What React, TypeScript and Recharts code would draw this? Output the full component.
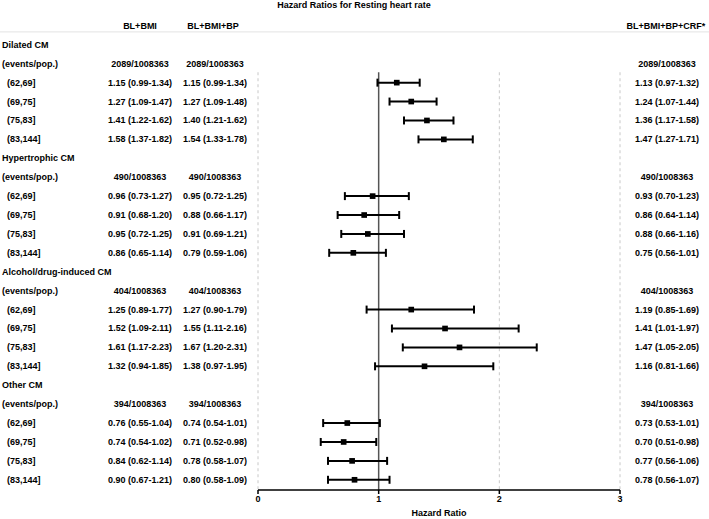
import React from 'react'
import {
  ComposedChart,
  Scatter,
  ErrorBar,
  XAxis,
  YAxis,
  ZAxis,
  ReferenceLine,
} from 'recharts'

// cardiomyopathy subtypes and their event counts
const groups = ['Dilated CM', 'Hypertrophic CM', 'Alcohol/drug-induced CM', 'Other CM']
const events = ['2089/1008363', '490/1008363', '404/1008363', '394/1008363']
const ranges = ['(62,69]', '(69,75]', '(75,83]', '(83,144]']
const xTicks = [0, 1, 2, 3]

// [HR, lower, upper] per group x range
const blBmi = [
  [[1.15, 0.99, 1.34], [1.27, 1.09, 1.47], [1.41, 1.22, 1.62], [1.58, 1.37, 1.82]],
  [[0.96, 0.73, 1.27], [0.91, 0.68, 1.2], [0.95, 0.72, 1.25], [0.86, 0.65, 1.14]],
  [[1.25, 0.89, 1.77], [1.52, 1.09, 2.11], [1.61, 1.17, 2.23], [1.32, 0.94, 1.85]],
  [[0.76, 0.55, 1.04], [0.74, 0.54, 1.02], [0.84, 0.62, 1.14], [0.9, 0.67, 1.21]],
]
const blBmiBp = [
  [[1.15, 0.99, 1.34], [1.27, 1.09, 1.48], [1.4, 1.21, 1.62], [1.54, 1.33, 1.78]],
  [[0.95, 0.72, 1.25], [0.88, 0.66, 1.17], [0.91, 0.69, 1.21], [0.79, 0.59, 1.06]],
  [[1.27, 0.9, 1.79], [1.55, 1.11, 2.16], [1.67, 1.2, 2.31], [1.38, 0.97, 1.95]],
  [[0.74, 0.54, 1.01], [0.71, 0.52, 0.98], [0.78, 0.58, 1.07], [0.8, 0.58, 1.09]],
]
const blBmiBpCrf = [
  [[1.13, 0.97, 1.32], [1.24, 1.07, 1.44], [1.36, 1.17, 1.58], [1.47, 1.27, 1.71]],
  [[0.93, 0.7, 1.23], [0.86, 0.64, 1.14], [0.88, 0.66, 1.16], [0.75, 0.56, 1.01]],
  [[1.19, 0.85, 1.69], [1.41, 1.01, 1.97], [1.47, 1.05, 2.05], [1.16, 0.81, 1.66]],
  [[0.73, 0.53, 1.01], [0.7, 0.51, 0.98], [0.77, 0.56, 1.06], [0.78, 0.56, 1.07]],
]

const FONT = 'Liberation Sans, Arial, sans-serif'
const fmt = (v: number[]) => `${v[0].toFixed(2)} (${v[1].toFixed(2)}-${v[2].toFixed(2)})`

type Row = { label: string; indent: boolean; c1: string; c2: string; c3: string }

// one text row per index; row 0 is the first group label
const rows: Row[] = []
groups.forEach((g, k) => {
  rows.push({ label: g, indent: false, c1: '', c2: '', c3: '' })
  rows.push({ label: '(events/pop.)', indent: false, c1: events[k], c2: events[k], c3: events[k] })
  ranges.forEach((r, j) => {
    rows.push({
      label: r,
      indent: true,
      c1: fmt(blBmi[k][j]),
      c2: fmt(blBmiBp[k][j]),
      c3: fmt(blBmiBpCrf[k][j]),
    })
  })
})

// plotted estimates are the BL+BMI+BP model
const points: { hr: number; row: number; err: number[] }[] = []
blBmiBp.forEach((grp, k) =>
  grp.forEach((v, j) => {
    points.push({ hr: v[0], row: k * 6 + 2 + j, err: [v[0] - v[1], v[2] - v[0]] })
  })
)

const rowTicks = [-1, ...rows.map((_, i) => i)]
const Y_DOMAIN = [-2, 23.54]
const GRID_TOP = 1.45

const txt = { fontFamily: FONT, fontSize: 9, fontWeight: 700, fill: '#000' }

// draws the whole table row (left columns + right CRF column) at the tick's y
const RowTick = (props: any) => {
  const { y, payload } = props
  const i = payload.value
  if (i === -1) {
    return (
      <g>
        <text x={354} y={y - 21} textAnchor="middle" dominantBaseline="central" {...txt}>
          Hazard Ratios for Resting heart rate
        </text>
        <text x={140} y={y} textAnchor="middle" dominantBaseline="central" {...txt}>
          BL+BMI
        </text>
        <text x={213} y={y} textAnchor="middle" dominantBaseline="central" {...txt}>
          BL+BMI+BP
        </text>
        <text x={666} y={y} textAnchor="middle" dominantBaseline="central" {...txt}>
          BL+BMI+BP+CRF*
        </text>
        <line x1={0} x2={709} y1={y + 6} y2={y + 6} stroke="#e3e3e3" strokeWidth={1} />
      </g>
    )
  }
  const r = rows[i]
  if (!r) return null
  return (
    <g>
      <text x={r.indent ? 7 : 2} y={y} dominantBaseline="central" {...txt}>
        {r.label}
      </text>
      <text x={140} y={y} textAnchor="middle" dominantBaseline="central" {...txt}>
        {r.c1}
      </text>
      <text x={215} y={y} textAnchor="middle" dominantBaseline="central" {...txt}>
        {r.c2}
      </text>
      <text x={667} y={y} textAnchor="middle" dominantBaseline="central" {...txt}>
        {r.c3}
      </text>
    </g>
  )
}

export default function App() {
  return (
    <div style={{ position: 'absolute', left: 0, top: 0, background: '#fff' }}>
      <ComposedChart
        width={709}
        height={519}
        data={points}
        margin={{ top: 7, right: 89, bottom: 0, left: 0 }}
      >
        <XAxis
          type="number"
          dataKey="hr"
          domain={[0, 3]}
          ticks={xTicks}
          axisLine={{ stroke: '#000', strokeWidth: 1.5 }}
          tickLine={{ stroke: '#000', strokeWidth: 1.5 }}
          tickSize={4}
          height={29}
          tick={{ fontFamily: FONT, fontSize: 9, fontWeight: 700, fill: '#000' }}
          label={{
            value: 'Hazard Ratio',
            position: 'insideBottom',
            offset: 3,
            style: { fontFamily: FONT, fontSize: 9, fontWeight: 700, fill: '#000' },
          }}
        />
        <YAxis
          type="number"
          dataKey="row"
          domain={Y_DOMAIN}
          reversed
          ticks={rowTicks}
          interval={0}
          width={258}
          axisLine={false}
          tickLine={false}
          tick={<RowTick />}
        />
        <ZAxis range={[32, 32]} />
        {[0, 2, 3].map((v) => (
          <ReferenceLine
            key={v}
            segment={[
              { x: v, y: GRID_TOP },
              { x: v, y: Y_DOMAIN[1] },
            ]}
            stroke="#c8c8c8"
            strokeDasharray="3 3"
          />
        ))}
        <ReferenceLine
          segment={[
            { x: 1, y: GRID_TOP },
            { x: 1, y: Y_DOMAIN[1] },
          ]}
          stroke="#555"
          strokeWidth={1.5}
        />
        <Scatter dataKey="row" fill="#000" shape="square" isAnimationActive={false}>
          <ErrorBar
            dataKey="err"
            direction="x"
            width={4}
            stroke="#000"
            strokeWidth={2}
            isAnimationActive={false}
          />
        </Scatter>
      </ComposedChart>
    </div>
  )
}
